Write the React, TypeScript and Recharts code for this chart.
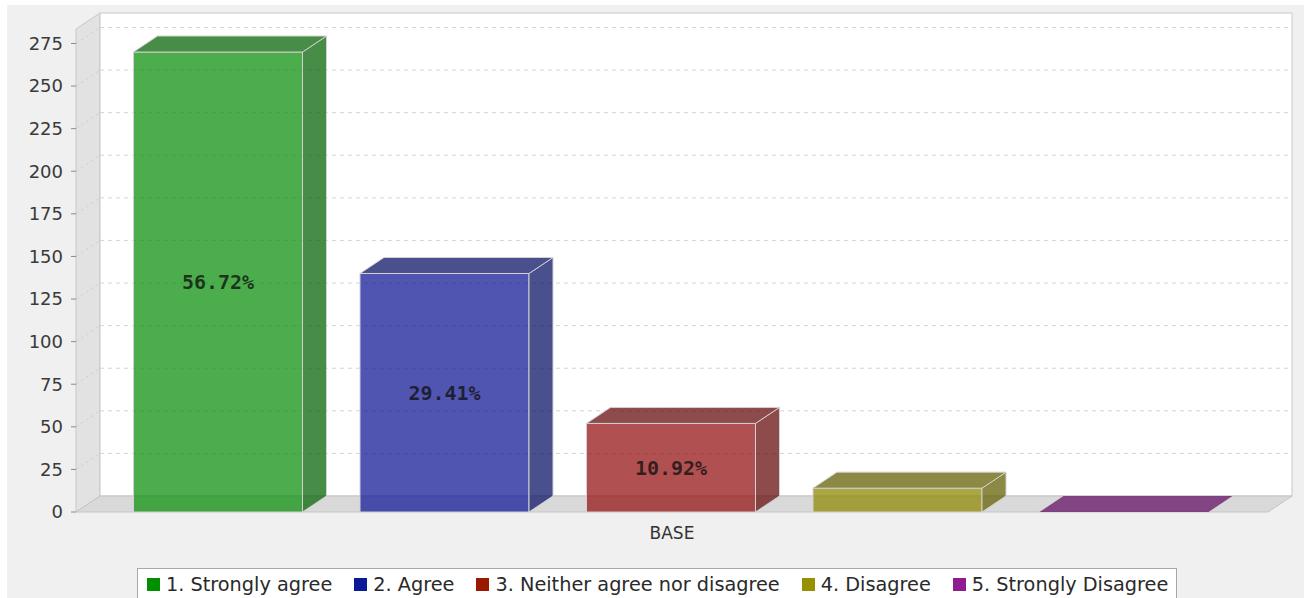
import React from "react";
import { BarChart, Bar, XAxis, YAxis, ReferenceArea, Legend } from "recharts";

const categories = ["BASE"];
const seriesNames = [
  "1. Strongly agree",
  "2. Agree",
  "3. Neither agree nor disagree",
  "4. Disagree",
  "5. Strongly Disagree",
];
const seriesValues = [270, 140, 52, 14, 0];
const seriesPercents = ["56.72%", "29.41%", "10.92%", "2.94%", "0.00%"];
const barColors = ["#0f920f", "#141c95", "#951515", "#8f8a05", "#8f1a8f"];
const barSideColors = ["#0a660a", "#0e1468", "#680f0f", "#646104", "#641264"];
const legendColors = ["#009000", "#0a1a96", "#991a00", "#999000", "#901a90"];
const yTicks = [0, 25, 50, 75, 100, 125, 150, 175, 200, 225, 250, 275];
const yMax = 283.5;

const DX = 24;
const DY = -16;

const data = categories.map((name) => {
  const row: Record<string, any> = { name };
  seriesValues.forEach((v, i) => {
    row["s" + i] = v;
  });
  return row;
});

const makeBarShape = (i: number) => (props: any) => {
  const { x, y, width, height } = props;
  const color = barColors[i];
  const dark = barSideColors[i];
  const op = 0.75;
  const stroke = "#d2d2d2";
  const top = `${x},${y} ${x + DX},${y + DY} ${x + width + DX},${y + DY} ${x + width},${y}`;
  const side = `${x + width},${y} ${x + width + DX},${y + DY} ${x + width + DX},${y + height + DY} ${x + width},${y + height}`;
  return (
    <g>
      {height > 0 && (
        <rect x={x} y={y} width={width} height={height} fill={color} fillOpacity={op} stroke={stroke} strokeWidth={1} />
      )}
      {height > 0 && (
        <polygon points={side} fill={dark} fillOpacity={op} stroke={stroke} strokeWidth={1} />
      )}
      <polygon points={top} fill={dark} fillOpacity={op} stroke={height > 0 ? stroke : "none"} strokeWidth={1} />
      {height > 40 && (
        <text
          x={x + width / 2}
          y={y + height / 2}
          textAnchor="middle"
          dominantBaseline="central"
          fontFamily="'DejaVu Sans Mono', monospace"
          fontWeight="bold"
          fontSize={20}
          fill="#111"
          fillOpacity={0.78}
        >
          {seriesPercents[i]}
        </text>
      )}
    </g>
  );
};

const WallsShape = (props: any) => {
  const { x, y, width, height } = props;
  const b = y + height;
  return (
    <g>
      <polygon
        points={`${x},${b} ${x},${y} ${x + DX},${y + DY} ${x + DX},${b + DY}`}
        fill="#e2e2e2"
        stroke="#c8c8c8"
      />
      <rect x={x + DX} y={y + DY} width={width} height={height} fill="#ffffff" stroke="#c8c8c8" />
      <polygon
        points={`${x},${b} ${x + DX},${b + DY} ${x + width + DX},${b + DY} ${x + width},${b}`}
        fill="#d9d9d9"
        stroke="#c4c4c4"
      />
    </g>
  );
};

const GridShape = (props: any) => {
  const { x, y, width } = props;
  return (
    <g>
      <line x1={x} y1={y} x2={x + DX} y2={y + DY} stroke="#d0d0d0" strokeDasharray="3 3" />
      <line x1={x + DX} y1={y + DY} x2={x + width + DX} y2={y + DY} stroke="#d4d4d4" strokeDasharray="4 4" />
    </g>
  );
};

const XTick = (p: any) => (
  <text
    x={p.x}
    y={p.y + 27}
    textAnchor="middle"
    fontFamily="'DejaVu Sans', sans-serif"
    fontSize={17}
    fill="#333"
  >
    {p.payload.value}
  </text>
);

const LegendContent = () => (
  <div
    style={{
      width: 1040,
      height: 32,
      boxSizing: "border-box",
      border: "1px solid #a8a8a8",
      background: "#ffffff",
      display: "flex",
      alignItems: "center",
      paddingLeft: 9,
      fontFamily: "'DejaVu Sans', sans-serif",
      fontSize: 19.3,
      color: "#2a2a2a",
      whiteSpace: "nowrap",
    }}
  >
    {seriesNames.map((n, i) => (
      <div key={n} style={{ display: "flex", alignItems: "center", marginRight: 22 }}>
        <div style={{ width: 13, height: 13, background: legendColors[i], marginRight: 6 }} />
        <span>{n}</span>
      </div>
    ))}
  </div>
);

export default function App() {
  return (
    <div
      style={{
        position: "absolute",
        left: 7,
        top: 5,
        width: 1297,
        height: 593,
        background: "#f0f0f0",
        overflow: "hidden",
      }}
    >
      <BarChart
        width={1297}
        height={593}
        data={data}
        margin={{ top: 24, right: 36, left: 0, bottom: 0 }}
        barCategoryGap={57.5}
        barGap={57.5}
      >
        <XAxis
          dataKey="name"
          height={56}
          axisLine={false}
          tickLine={false}
          tickSize={0}
          tickMargin={0}
          tick={<XTick />}
        />
        <YAxis
          type="number"
          domain={[0, yMax]}
          ticks={yTicks}
          allowDataOverflow
          interval={0}
          width={69}
          tickSize={5}
          tickMargin={8}
          axisLine={false}
          tickLine={{ stroke: "#8a8a8a" }}
          tick={{ fontSize: 18, fill: "#3a3a3a", fontFamily: "'DejaVu Sans', sans-serif" }}
        />
        <ReferenceArea y1={0} y2={yMax} ifOverflow="visible" shape={<WallsShape />} />
        {yTicks
          .filter((t) => t > 0)
          .map((t) => (
            <ReferenceArea key={"g" + t} y1={t} y2={t} ifOverflow="visible" shape={<GridShape />} />
          ))}
        {seriesNames.map((n, i) => (
          <Bar
            key={n}
            dataKey={"s" + i}
            name={n}
            fill={legendColors[i]}
            isAnimationActive={false}
            shape={makeBarShape(i)}
          />
        ))}
        <Legend
          verticalAlign="bottom"
          align="left"
          wrapperStyle={{ left: 130, bottom: 0, width: 1040, height: 30 }}
          content={<LegendContent />}
        />
      </BarChart>
    </div>
  );
}
